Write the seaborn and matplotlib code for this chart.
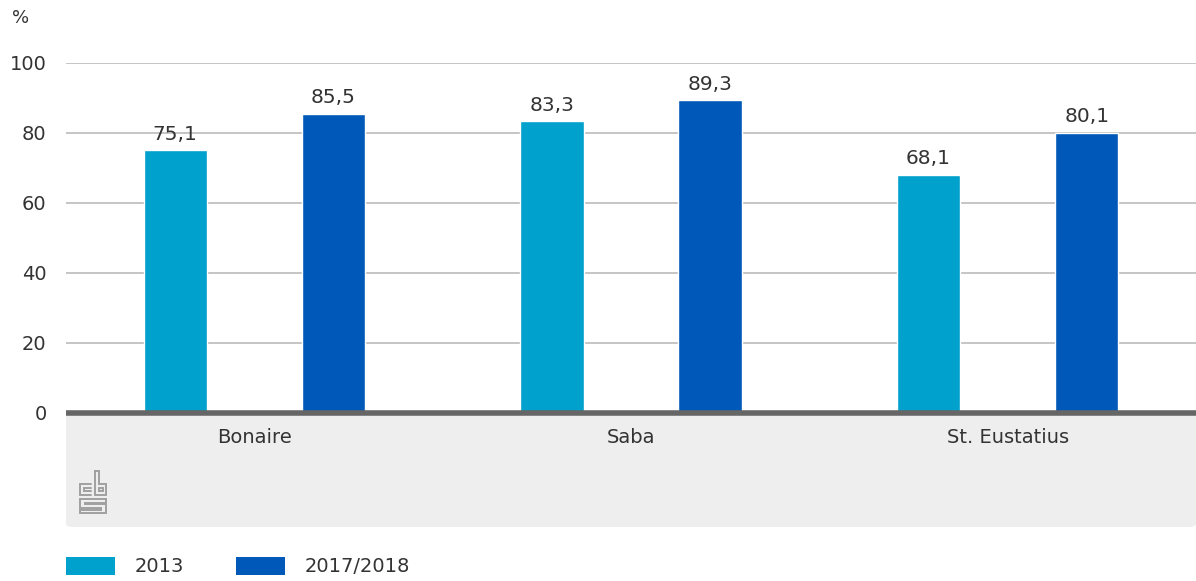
import matplotlib
matplotlib.use("Agg")
import matplotlib.pyplot as plt
import seaborn as sns
import pandas as pd
from matplotlib.patches import FancyBboxPatch, Rectangle
from matplotlib.lines import Line2D

regions = ["Bonaire", "Saba", "St. Eustatius"]
series_names = ["2013", "2017/2018"]
values_2013 = [75.1, 83.3, 68.1]
values_2018 = [85.5, 89.3, 80.1]
yticks = [0, 20, 40, 60, 80, 100]
colors = ["#00a1cd", "#0058b8"]

df = pd.DataFrame({
    "regio": regions * 2,
    "jaar": [series_names[0]] * 3 + [series_names[1]] * 3,
    "waarde": values_2013 + values_2018,
})

sns.set_theme(style="white")
plt.rcParams["font.family"] = ["DejaVu Sans"]
TXT = "#333333"

W, H = 1196, 581
fig = plt.figure(figsize=(W / 100, H / 100), dpi=100)

# grey panel below the axis
panel = FancyBboxPatch((66 / W, (581 - 527) / H), (1196 - 66) / W, (527 - 413) / H,
                       boxstyle="round,pad=0,rounding_size=0.006",
                       transform=fig.transFigure, facecolor="#eeeeee",
                       edgecolor="none", zorder=-5)
fig.patches.append(panel)

ax = fig.add_axes([66 / W, (581 - 413) / H, (1196 - 66) / W, (413 - 63) / H])
ax.set_facecolor("none")
sns.barplot(data=df, x="regio", y="waarde", hue="jaar", order=regions,
            hue_order=series_names, palette=colors, width=0.84, gap=0.6,
            saturation=1, ax=ax, legend=False, zorder=3)

ax.set_xlim(-0.5, 2.5)
ax.set_ylim(0, 100)
ax.set_yticks(yticks)
ax.set_yticklabels([str(t) for t in yticks], fontsize=14, color=TXT)
ax.tick_params(axis="y", length=0, pad=14)
ax.tick_params(axis="x", length=0, pad=11, labelsize=14, labelcolor=TXT)
ax.yaxis.grid(True, color="#c0c0c0", linewidth=1.3)
ax.set_axisbelow(True)
for s in ["top", "right", "left"]:
    ax.spines[s].set_visible(False)
ax.spines["bottom"].set_color("#666666")
ax.spines["bottom"].set_linewidth(4)
ax.spines["bottom"].set_capstyle("butt")
ax.spines["bottom"].set_zorder(5)
ax.set_xlabel("")
ax.set_ylabel("")

for cont in ax.containers:
    for bar in cont:
        h = bar.get_height()
        ax.text(bar.get_x() + bar.get_width() / 2, h + 1.8,
                f"{h:.1f}".replace(".", ","), ha="center", va="bottom",
                fontsize=14.5, color=TXT)

fig.text(12 / W, 1 - 18 / H, "%", fontsize=13, color=TXT, va="center", ha="left")

# legend
for i, (name, col) in enumerate(zip(series_names, colors)):
    x0 = [66, 236][i]
    fig.patches.append(Rectangle((x0 / W, (581 - 575) / H), 49 / W, 18 / H,
                                 transform=fig.transFigure, facecolor=col,
                                 edgecolor="none"))
    fig.text((x0 + 69) / W, (581 - 566) / H, name, fontsize=14, color=TXT,
             va="center", ha="left")

# simple cbs logo
lax = fig.add_axes([79 / W, (581 - 514) / H, 28 / W, 44 / H])
lax.set_xlim(0, 28)
lax.set_ylim(0, 44)
lax.axis("off")
lc = "#a0a0a0"
lw = 1.4
segs = [
    # c
    [(12, 30), (1, 30), (1, 19), (12, 19)],
    [(12, 26), (5, 26), (5, 23), (12, 23)],
    # b
    [(16, 43), (16, 19), (27, 19), (27, 30), (20, 30), (20, 43), (16, 43)],
    [(20, 23), (23.5, 23), (23.5, 26.5), (20, 26.5), (20, 23)],
    # s
    [(27, 15), (1, 15), (1, 6.5), (22, 6.5), (22, 4.5), (1, 4.5), (1, 1), (27, 1),
     (27, 10), (6, 10), (6, 11.5), (27, 11.5), (27, 15)],
]
for s in segs:
    xs, ys = zip(*s)
    lax.add_line(Line2D(xs, ys, color=lc, linewidth=lw, solid_joinstyle="miter"))

fig.savefig("out.png", dpi=100)
